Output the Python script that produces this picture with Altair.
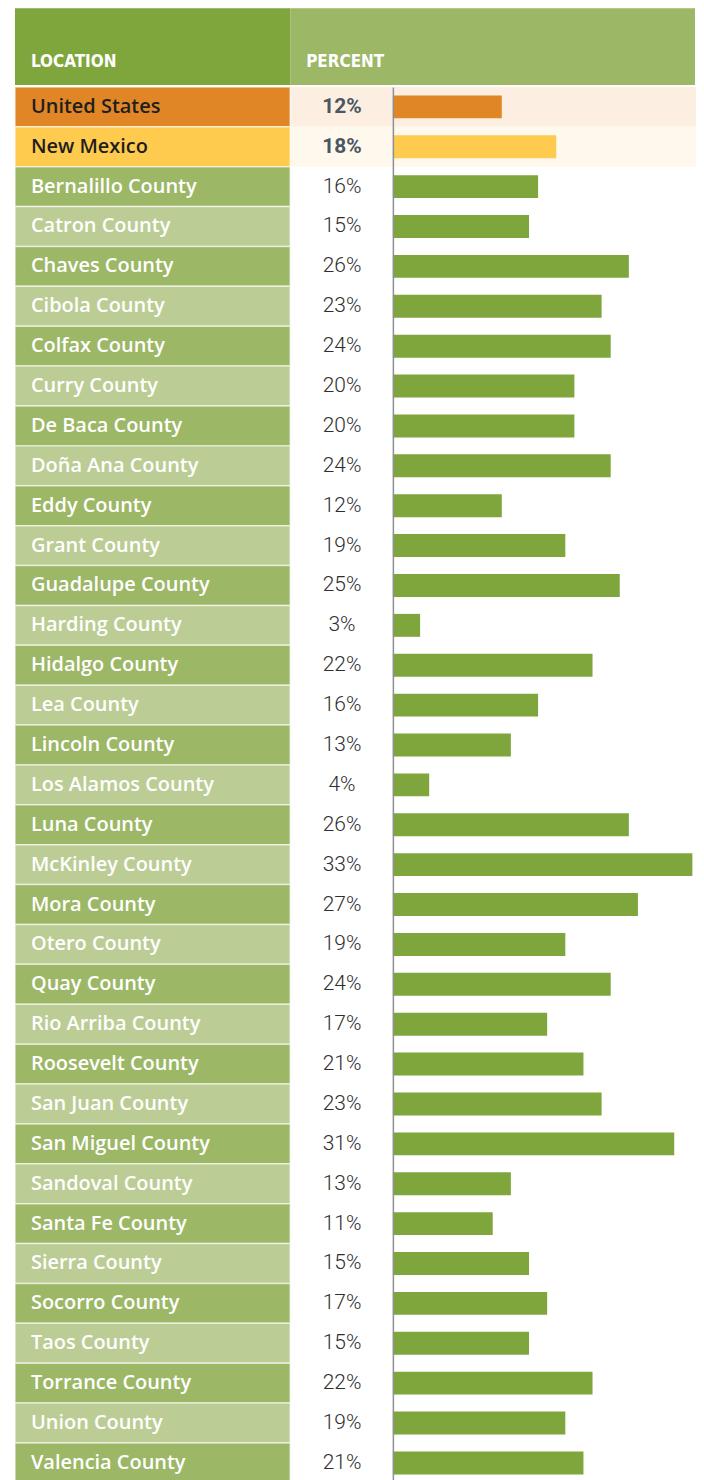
import altair as alt
import pandas as pd

locations = [
    "United States", "New Mexico", "Bernalillo County", "Catron County", "Chaves County",
    "Cibola County", "Colfax County", "Curry County", "De Baca County", "Doña Ana County",
    "Eddy County", "Grant County", "Guadalupe County", "Harding County", "Hidalgo County",
    "Lea County", "Lincoln County", "Los Alamos County", "Luna County", "McKinley County",
    "Mora County", "Otero County", "Quay County", "Rio Arriba County", "Roosevelt County",
    "San Juan County", "San Miguel County", "Sandoval County", "Santa Fe County",
    "Sierra County", "Socorro County", "Taos County", "Torrance County", "Union County",
    "Valencia County",
]
percents = [12, 18, 16, 15, 26, 23, 24, 20, 20, 24, 12, 19, 25, 3, 22, 16, 13, 4, 26, 33,
            27, 19, 24, 17, 21, 23, 31, 13, 11, 15, 17, 15, 22, 19, 21]
headers = ["LOCATION", "PERCENT"]

kinds = ["us", "nm", "county_a", "county_b"]
cell_colors = ["#e08626", "#fecb4e", "#9cb766", "#bbcd94"]
bar_colors = ["#e08626", "#fecb4e", "#7ea63c", "#7ea63c"]

row_kind = ["us", "nm"] + ["county_a" if i % 2 == 0 else "county_b" for i in range(len(locations) - 2)]
df = pd.DataFrame({"location": locations, "percent": percents, "kind": row_kind})
hdf = pd.DataFrame({"header": headers})

LFONT = "Open Sans, Noto Sans, sans-serif"
PFONT = "Roboto, DejaVu Sans, sans-serif"
HFONT = "DejaVu Sans Condensed, sans-serif"
ROW_H = 40
BODY_H = ROW_H * len(locations)

yscale = alt.Scale(paddingInner=0, paddingOuter=0)
Y = alt.Y("location:N", sort=locations, scale=yscale, axis=None)
is_top = "datum.kind == 'us' || datum.kind == 'nm'"
is_county = "datum.kind != 'us' && datum.kind != 'nm'"

base = alt.Chart(df)

# ---- location column
loc_cells = base.mark_rect(stroke="white", strokeWidth=1.5, strokeOpacity=0.6).encode(
    y=Y,
    color=alt.Color("kind:N", scale=alt.Scale(domain=kinds, range=cell_colors), legend=None),
)
loc_top = base.transform_filter(is_top).mark_text(
    align="left", baseline="middle", font=LFONT, fontSize=20, fontWeight=600, color="#1e1e1e"
).encode(y=Y, x=alt.value(16), text="location:N")
loc_cty = base.transform_filter(is_county).mark_text(
    align="left", baseline="middle", font=LFONT, fontSize=20, fontWeight=600, color="white"
).encode(y=Y, x=alt.value(16), text="location:N")
loc_panel = alt.layer(loc_cells, loc_top, loc_cty).properties(width=276, height=BODY_H)

# ---- percent column
bg_color = alt.condition("datum.kind == 'us'", alt.value("#fcefe2"), alt.value("#fef8ed"))
pct_bg = base.transform_filter(is_top).mark_rect().encode(y=Y, color=bg_color)
pct_top = base.transform_filter(is_top).transform_calculate(label="datum.percent + '%'").mark_text(
    align="center", baseline="middle", font=PFONT, fontSize=21, fontWeight="bold", color="#4a5661"
).encode(y=Y, x=alt.value(51), text="label:N")
pct_cty = base.transform_filter(is_county).transform_calculate(label="datum.percent + '%'").mark_text(
    align="center", baseline="middle", font=PFONT, fontSize=21, fontWeight=300, color="#2e2e2e"
).encode(y=Y, x=alt.value(51), text="label:N")
pct_panel = alt.layer(pct_bg, pct_top, pct_cty).properties(width=102, height=BODY_H)

# ---- bar column
Yax = alt.Y("location:N", sort=locations, scale=yscale,
            axis=alt.Axis(labels=False, ticks=False, title=None, domainColor="#8c9196", domainWidth=1.5))
bar_bg = base.transform_filter(is_top).mark_rect().encode(y=Yax, color=bg_color)
bars = base.mark_bar(size=23).encode(
    y=Yax,
    x=alt.X("percent:Q", scale=alt.Scale(domain=[0, 33.4], nice=False, zero=True), axis=None),
    color=alt.Color("kind:N", scale=alt.Scale(domain=kinds, range=bar_colors), legend=None),
)
bar_panel = alt.layer(bar_bg, bars).properties(width=304, height=BODY_H)

body = alt.hconcat(loc_panel, pct_panel, bar_panel, spacing=0).resolve_scale(color="independent")

# ---- header row
hbase = alt.Chart(hdf)
h_left = alt.layer(
    hbase.transform_filter("datum.header == 'LOCATION'").mark_rect().encode(color=alt.value("#7ea63c")),
    hbase.transform_filter("datum.header == 'LOCATION'").mark_text(
        align="left", baseline="middle", font=HFONT, fontSize=17, fontWeight="bold", color="white"
    ).encode(x=alt.value(16), y=alt.value(54), text="header:N"),
).properties(width=276, height=77)
h_right = alt.layer(
    hbase.transform_filter("datum.header == 'PERCENT'").mark_rect().encode(color=alt.value("#9cb766")),
    hbase.transform_filter("datum.header == 'PERCENT'").mark_text(
        align="left", baseline="middle", font=HFONT, fontSize=17, fontWeight="bold", color="white"
    ).encode(x=alt.value(16), y=alt.value(54), text="header:N"),
).properties(width=406, height=77)
header = alt.hconcat(h_left, h_right, spacing=0)

chart = alt.vconcat(header, body, spacing=1).properties(
    padding={"left": 6, "top": -2, "right": 0, "bottom": 0}
).configure_view(stroke=None)

chart.save("out.html", embed_options={"renderer": "svg", "actions": False})
